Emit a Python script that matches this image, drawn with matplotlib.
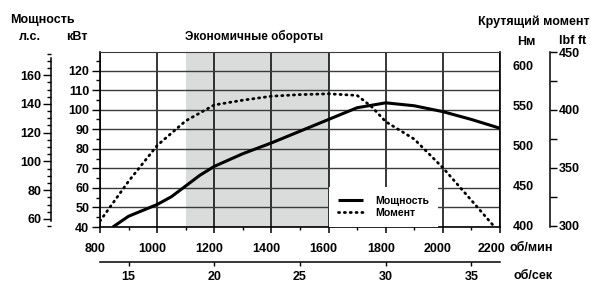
import matplotlib
matplotlib.use("Agg")
import matplotlib.pyplot as plt
from matplotlib.ticker import MultipleLocator, FixedLocator
from matplotlib.transforms import ScaledTranslation

plt.rcParams['font.family'] = ['Liberation Sans', 'DejaVu Sans']
plt.rcParams['font.weight'] = 'bold'
plt.rcParams['font.size'] = 9

# data
rpm_power = [845, 900, 1000, 1050, 1100, 1150, 1200, 1300, 1400, 1500, 1600, 1700, 1800, 1900, 2000, 2100, 2200]
power_kw = [40, 45.5, 51.5, 55.5, 61, 66.5, 71, 77.5, 83, 89, 95, 101, 103.5, 102, 99, 95, 90.5]

rpm_torque = [800, 900, 1000, 1100, 1200, 1300, 1400, 1500, 1600, 1700, 1750, 1800, 1900, 2000, 2100, 2180]
torque_nm = [405, 455, 500, 531, 551, 557, 562, 564, 565, 563, 549, 530, 508, 472, 431, 398]

eco_range = (1100, 1600)
kw_ticks = list(range(40, 121, 10))
hp_ticks = list(range(60, 161, 20))
nm_ticks = [400, 450, 500, 550, 600]
lbf_ticks = [300, 350, 400, 450]
rpm_ticks = list(range(800, 2201, 200))
rps_ticks = [15, 20, 25, 30, 35]

W, H = 591, 282
fig = plt.figure(figsize=(W / 100, H / 100), dpi=100)
ax = fig.add_axes([100 / W, 1 - 227 / H, 400 / W, 175 / H])

ax.axvspan(*eco_range, color='#dadbdb', lw=0, zorder=0)
ax.set_xlim(800, 2200)
ax.set_ylim(40, 129.5)
ax.set_xticks(rpm_ticks)
ax.xaxis.set_minor_locator(MultipleLocator(100))
ax.set_yticks(kw_ticks)
ax.yaxis.set_minor_locator(MultipleLocator(5))
ax.grid(axis='x', color='black', lw=1.1)
ax.grid(axis='y', color='#3a3a3a', lw=1.0)
for s in ['left', 'right', 'bottom']:
    ax.spines[s].set_linewidth(1.2)
ax.spines['top'].set_color('#3a3a3a')
ax.tick_params(axis='x', which='major', length=4.5, width=1.1, pad=7)
ax.tick_params(axis='x', which='minor', length=2.5, width=1.0)
ax.tick_params(axis='y', which='major', length=5.8, width=1.0, pad=2, right=True)
ax.tick_params(axis='y', which='minor', length=2.9, width=1.0)
shift = ScaledTranslation(-5 / 100, 0, fig.dpi_scale_trans)
for lab in ax.get_xticklabels():
    lab.set_transform(lab.get_transform() + shift)
ax.get_xticklabels()[-1].set_transform(
    ax.get_xticklabels()[-1].get_transform() + ScaledTranslation(-3 / 100, 0, fig.dpi_scale_trans))

l1, = ax.plot(rpm_power, power_kw, color='black', lw=2.2, solid_capstyle='butt')

# torque, Nm
ax2 = ax.twinx()
ax2.set_ylim(397.5, 617.6)
ax2.set_yticks(nm_ticks)
ax2.tick_params(axis='y', length=0, pad=9)
for s in ax2.spines.values():
    s.set_visible(False)
l2, = ax2.plot(rpm_torque, torque_nm, color='black', lw=2.0,
               linestyle=(0, (0.4, 1.7)), dash_capstyle='round')

# torque, lbf ft
ax3 = ax.twinx()
ax3.set_ylim(299.1, 450)
for s in ['left', 'top', 'bottom']:
    ax3.spines[s].set_visible(False)
ax3.spines['right'].set_position(('axes', 1.125))
ax3.spines['right'].set_linewidth(1.1)
ax3.set_yticks(lbf_ticks)
ax3.yaxis.set_minor_locator(FixedLocator([325, 375, 425]))
ax3.tick_params(axis='y', which='both', length=5, width=1.0, pad=1.5)

# power, hp
hp = ax.secondary_yaxis(-0.1225, functions=(lambda k: k * 1.36, lambda h: h / 1.36))
hp.set_yticks(hp_ticks)
hp.yaxis.set_minor_locator(MultipleLocator(5))
hp.spines['left'].set_bounds(58.5, 172)
hp.spines['left'].set_linewidth(1.1)
hp.tick_params(axis='y', which='major', length=5.8, width=1.0, pad=1)
hp.tick_params(axis='y', which='minor', length=2.9, width=1.0)

# rev per second
rps = ax.secondary_xaxis(-0.198, functions=(lambda r: r / 60, lambda s: s * 60))
rps.set_xticks(rps_ticks)
rps.spines['bottom'].set_linewidth(1.1)
rps.tick_params(axis='x', length=3, width=1.0, pad=4)

leg = ax.legend([l1, l2], ['Мощность', 'Момент'], loc='lower left',
                bbox_to_anchor=(1600, 40), bbox_transform=ax.transData,
                borderaxespad=0, fontsize=7.6, frameon=True, fancybox=False,
                handlelength=2.4, handletextpad=1.2, labelspacing=0.2,
                borderpad=0.85)
leg.get_frame().set_edgecolor('none')
leg.get_frame().set_facecolor('white')
leg.get_frame().set_alpha(1)

def px(x, y):
    return x / W, 1 - y / H

fig.text(*px(10, 20), 'Мощность', ha='left', va='center', fontsize=9)
fig.text(*px(30, 37), 'л.с.', ha='center', va='center', fontsize=9)
fig.text(*px(77, 37), 'кВт', ha='center', va='center', fontsize=9)
fig.text(*px(254, 36), 'Экономичные обороты', ha='center', va='center', fontsize=8.5)
fig.text(*px(590, 22), 'Крутящий момент', ha='right', va='center', fontsize=9)
fig.text(*px(526, 42), 'Нм', ha='center', va='center', fontsize=9)
fig.text(*px(573, 41), 'lbf ft', ha='center', va='center', fontsize=9)
fig.text(*px(509, 248), 'об/мин', ha='left', va='center', fontsize=9)
fig.text(*px(514, 276), 'об/сек', ha='left', va='center', fontsize=9)

fig.savefig('out.png', dpi=100)
